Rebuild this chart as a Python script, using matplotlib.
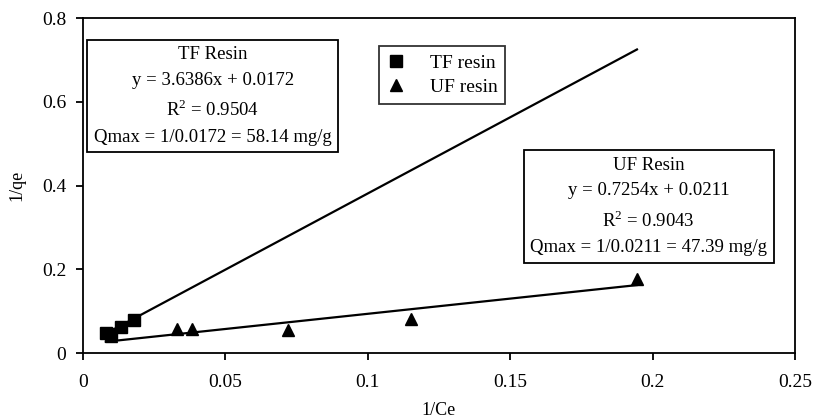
import matplotlib
matplotlib.use("Agg")
import matplotlib.pyplot as plt
import numpy as np

plt.rcParams['font.family'] = ['Liberation Serif', 'DejaVu Serif']
plt.rcParams['mathtext.fontset'] = 'custom'
plt.rcParams['mathtext.rm'] = 'Liberation Serif'

# Lineweaver-Burk style data: 1/Ce vs 1/qe
tf_x = [0.0081, 0.0098, 0.0133, 0.0179]
tf_y = [0.048, 0.045, 0.062, 0.079]
uf_x = [0.0098, 0.0329, 0.0382, 0.0721, 0.1151, 0.1946]
uf_y = [0.040, 0.057, 0.058, 0.056, 0.081, 0.177]

# Fitted trendlines
tf_slope, tf_icpt = 3.6386, 0.0172
uf_slope, uf_icpt = 0.7254, 0.0211
fit_range = [0.008, 0.1945]

x_ticks = [0, 0.05, 0.1, 0.15, 0.2, 0.25]
x_tick_labels = ["0", "0.05", "0.1", "0.15", "0.2", "0.25"]
y_ticks = [0, 0.2, 0.4, 0.6, 0.8]
y_tick_labels = ["0", "0.2", "0.4", "0.6", "0.8"]

fig = plt.figure(figsize=(8.13, 4.19), dpi=100)
ax = fig.add_axes([0.1021, 0.1575, 0.8758, 0.7995])

xf = np.array(fit_range)
ax.plot(xf, tf_slope * xf + tf_icpt, color='black', lw=1.6, zorder=2)
ax.plot(xf, uf_slope * xf + uf_icpt, color='black', lw=1.6, zorder=2)

ax.plot(uf_x, uf_y, linestyle='none', marker='^', color='black', markersize=9,
        label='UF resin', zorder=3)
ax.plot(tf_x, tf_y, linestyle='none', marker='s', color='black', markersize=9,
        label='TF resin', zorder=4)

ax.set_xlim(0, 0.25)
ax.set_ylim(0, 0.8)
ax.set_xticks(x_ticks)
ax.set_xticklabels(x_tick_labels)
ax.set_yticks(y_ticks)
ax.set_yticklabels(y_tick_labels)
ax.tick_params(direction='out', length=5, width=1.3, labelsize=14, pad=7)
ax.tick_params(axis='x', pad=10)
for s in ax.spines.values():
    s.set_linewidth(1.3)

ax.set_xlabel('1/Ce', fontsize=13, labelpad=8)
ax.set_ylabel('1/qe', fontsize=13, labelpad=12)

handles, labels = ax.get_legend_handles_labels()
leg = ax.legend(handles[::-1], labels[::-1], loc='upper left',
                bbox_to_anchor=(0.4157, 0.916), borderaxespad=0,
                fontsize=14, frameon=True,
                fancybox=False, edgecolor='black', handlelength=1.0,
                handletextpad=1.2, borderpad=0.4, labelspacing=0.35)
leg.get_frame().set_linewidth(1.3)

box = dict(boxstyle='square,pad=0.35', facecolor='white', edgecolor='black', lw=1.3)
tf_text = ("TF Resin\n"
           f"y = {tf_slope:.4f}x + {tf_icpt:.4f}\n"
           "R$^{2}$ = 0.9504\n"
           f"Qmax = 1/{tf_icpt:.4f} = 58.14 mg/g")
uf_text = ("UF Resin\n"
           f"y = {uf_slope:.4f}x + {uf_icpt:.4f}\n"
           "R$^{2}$ = 0.9043\n"
           f"Qmax = 1/{uf_icpt:.4f} = 47.39 mg/g")
ax.text(0.0456, 0.614, tf_text, ha='center', va='center', fontsize=13.5,
        linespacing=1.65, bbox=box, zorder=5)
ax.text(0.1986, 0.350, uf_text, ha='center', va='center', fontsize=13.5,
        linespacing=1.65, bbox=box, zorder=5)

fig.savefig('out.png', dpi=100)
